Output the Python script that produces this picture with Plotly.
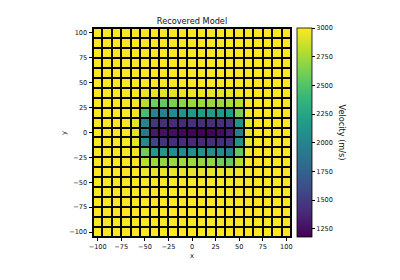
import plotly.graph_objects as go

# Cell centres
x_vals = [-100, -90, -80, -70, -60, -50, -40, -30, -20, -10, 0, 10, 20, 30, 40, 50, 60, 70, 80, 90, 100]
y_vals = [-100, -90, -80, -70, -60, -50, -40, -30, -20, -10, 0, 10, 20, 30, 40, 50, 60, 70, 80, 90, 100]

background_velocity = 3000

# Anomaly block: columns x = -60..60, rows y = 40 (top) .. -40 (bottom)
block_x = [-60, -50, -40, -30, -20, -10, 0, 10, 20, 30, 40, 50, 60]
block_y = [40, 30, 20, 10, 0, -10, -20, -30, -40]
row_y40 = [2990, 2960, 2940, 2930, 2930, 2940, 2950, 2950, 2940, 2930, 2940, 2960, 2990]
row_y30 = [2980, 2800, 2600, 2550, 2620, 2680, 2720, 2730, 2720, 2730, 2760, 2800, 2980]
row_y20 = [2960, 2450, 2000, 2000, 2060, 2120, 2150, 2180, 2180, 2150, 2180, 2620, 2960]
row_y10 = [2930, 2000, 1480, 1420, 1400, 1400, 1430, 1420, 1420, 1430, 1450, 2100, 2930]
row_y0 = [2920, 1900, 1300, 1260, 1240, 1210, 1190, 1178, 1200, 1230, 1330, 1950, 2920]
row_ym10 = [2930, 2050, 1560, 1450, 1420, 1410, 1400, 1400, 1410, 1420, 1450, 2100, 2930]
row_ym20 = [2960, 2600, 2150, 2150, 2080, 2060, 2080, 2100, 2080, 2050, 1980, 2550, 2960]
row_ym30 = [2980, 2800, 2720, 2700, 2720, 2740, 2720, 2700, 2700, 2600, 2560, 2800, 2980]
row_ym40 = [2990, 2960, 2940, 2940, 2940, 2940, 2940, 2940, 2940, 2940, 2940, 2960, 2990]
block_rows = [row_y40, row_y30, row_y20, row_y10, row_y0, row_ym10, row_ym20, row_ym30, row_ym40]

tick_vals = [-100, -75, -50, -25, 0, 25, 50, 75, 100]
cbar_ticks = [1250, 1500, 1750, 2000, 2250, 2500, 2750, 3000]

# Build the grid (rows ordered by y_vals ascending)
z = []
for yv in y_vals:
    row = []
    for xv in x_vals:
        val = background_velocity
        if yv in block_y and xv in block_x:
            val = block_rows[block_y.index(yv)][block_x.index(xv)]
        row.append(val)
    z.append(row)

W, H = 400, 280
L, R, T, B = 92.7, 291.3, 28.3, 237.3
FONT = "DejaVu Sans"

fig = go.Figure(go.Heatmap(
    x=x_vals, y=y_vals, z=z,
    colorscale="Viridis", zmin=1178, zmax=3000,
    xgap=2, ygap=2,
    colorbar=dict(
        x=(297.3 - L) / (R - L), xanchor="left", xpad=0,
        y=0.5, yanchor="middle", len=1.0, lenmode="fraction", ypad=0,
        thickness=15, outlinewidth=0.8, outlinecolor="black",
        tickvals=cbar_ticks, ticks="outside", ticklen=3, tickwidth=0.8,
        tickcolor="black", tickfont=dict(family=FONT, size=6.6, color="#111"),
    ),
))

fig.update_layout(
    width=W, height=H,
    margin=dict(l=L, r=W - R, t=T, b=H - B, pad=0),
    paper_bgcolor="white", plot_bgcolor="black",
    font=dict(family=FONT, size=6.6, color="#111"),
    title=dict(text="Recovered Model", x=(L + R) / 2 / W, xanchor="center",
               y=1 - 20.7 / H, yanchor="middle", yref="container",
               font=dict(family=FONT, size=8.2, color="#111")),
    xaxis=dict(range=[-105, 105], tickvals=tick_vals, ticks="outside", ticklen=3.5,
               tickwidth=0.8, tickcolor="black", showline=True, linecolor="black",
               linewidth=0.8, mirror=True, showgrid=False, zeroline=False,
               tickfont=dict(family=FONT, size=6.6, color="#111")),
    yaxis=dict(range=[-105, 105], tickvals=tick_vals, ticks="outside", ticklen=3.5,
               tickwidth=0.8, tickcolor="black", showline=True, linecolor="black",
               linewidth=0.8, mirror=True, showgrid=False, zeroline=False,
               tickfont=dict(family=FONT, size=6.6, color="#111")),
    annotations=[
        dict(text="x", x=0.5, xref="paper", y=-(256.7 - B) / (B - T), yref="paper",
             xanchor="center", yanchor="middle", showarrow=False,
             font=dict(family=FONT, size=6.8, color="#111")),
        dict(text="y", x=-(L - 63) / (R - L), xref="paper", y=0.5, yref="paper",
             xanchor="center", yanchor="middle", showarrow=False, textangle=-90,
             font=dict(family=FONT, size=6.8, color="#111")),
        dict(text="Velocity (m/s)", x=(342.3 - L) / (R - L), xref="paper",
             y=(B - 132.6) / (B - T), yref="paper",
             xanchor="center", yanchor="middle", showarrow=False, textangle=90,
             font=dict(family=FONT, size=8.2, color="#111")),
    ],
)

fig.write_html("out.html")
